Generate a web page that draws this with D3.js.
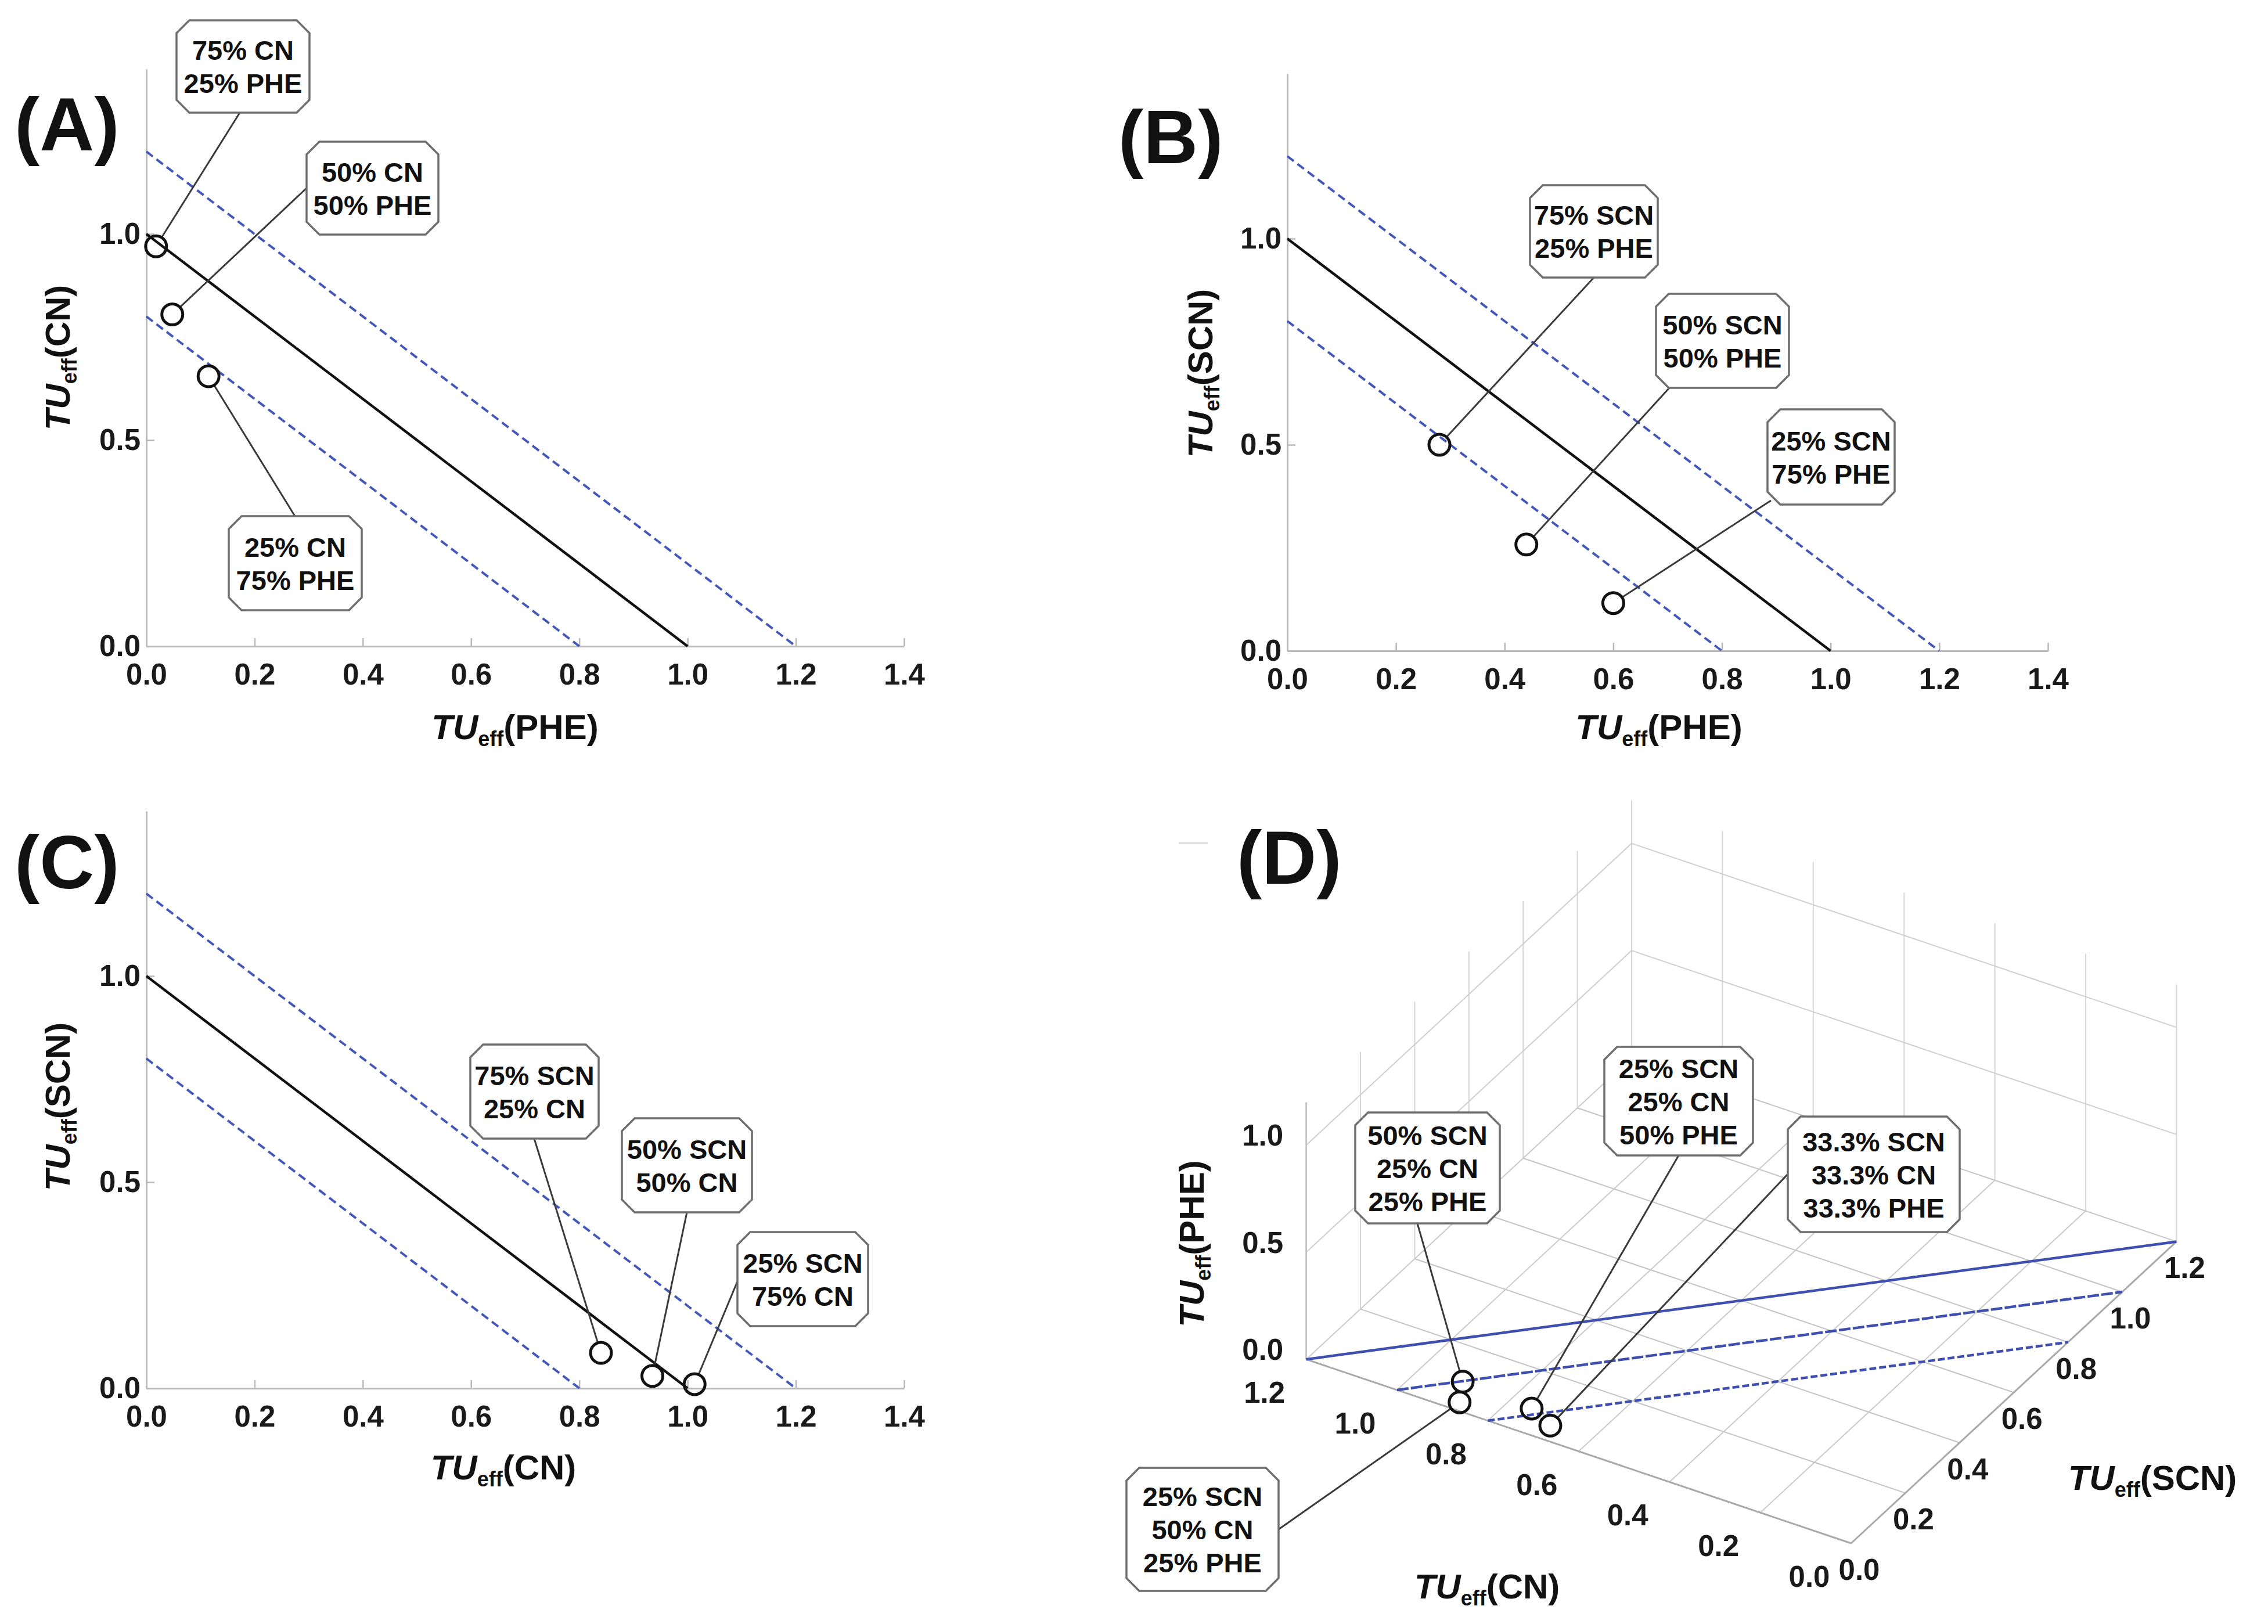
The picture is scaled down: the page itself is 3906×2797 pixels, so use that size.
<!DOCTYPE html>
<html><head><meta charset="utf-8">
<script src="https://cdn.jsdelivr.net/npm/d3@7"></script>
<style>body{margin:0;background:#fff} svg{display:block}</style>
</head><body>
<script>
// ---------------- DATA ----------------
const axisTicks2D = [0, 0.2, 0.4, 0.6, 0.8, 1.0, 1.2, 1.4];
const yTicks2D = [0, 0.5, 1.0];
const isoboleLevels = [0.8, 1.0, 1.2];

const panelNames = ["(A)", "(B)", "(C)", "(D)"];
const xTitles = ["PHE", "PHE", "CN"];
const yTitles = ["CN", "SCN", "SCN"];

const ptsA_x = [0.018, 0.048, 0.115];
const ptsA_y = [0.97, 0.805, 0.655];
const labelsA = [["75% CN", "25% PHE"], ["50% CN", "50% PHE"], ["25% CN", "75% PHE"]];

const ptsB_x = [0.28, 0.44, 0.60];
const ptsB_y = [0.50, 0.258, 0.116];
const labelsB = [["75% SCN", "25% PHE"], ["50% SCN", "50% PHE"], ["25% SCN", "75% PHE"]];

const ptsC_x = [0.84, 0.935, 1.013];
const ptsC_y = [0.086, 0.03, 0.01];
const labelsC = [["75% SCN", "25% CN"], ["50% SCN", "50% CN"], ["25% SCN", "75% CN"]];

const ticks3D = [0, 0.2, 0.4, 0.6, 0.8, 1.0, 1.2];
const ticks3D_phe = [0, 0.5, 1.0];
const ptsD_cn  = [0.89, 0.87, 0.728, 0.672];
const ptsD_scn = [0.058, 0.013, 0.041, 0.016];
const ptsD_phe = [0.05, 0.02, 0.06, 0.05];
const labelsD = [["50% SCN", "25% CN", "25% PHE"], ["25% SCN", "50% CN", "25% PHE"],
                 ["25% SCN", "25% CN", "50% PHE"], ["33.3% SCN", "33.3% CN", "33.3% PHE"]];

// ---------------- LAYOUT / STYLE ----------------
const W = 3906, H = 2797;
const FONT = "'Liberation Sans', Arial, Helvetica, sans-serif";
const BLUE = "#4357b8";
const fmt = d3.format(".1f");
const TICKFS = "51px";

const svg = d3.select("body").append("svg").attr("width", W).attr("height", H)
  .style("font-family", FONT);
svg.append("rect").attr("width", W).attr("height", H).attr("fill", "#fff");

const panelLabelPos = [[25, 259], [1926, 281], [25, 1530], [2130, 1522]];
panelNames.forEach((n, i) => {
  svg.append("text").attr("x", panelLabelPos[i][0]).attr("y", panelLabelPos[i][1])
    .style("font-size", "130px").style("font-weight", "bold").attr("fill", "#111").text(n);
});

function axisTitle(x, y, rot, name) {
  const t = svg.append("text").attr("transform", `translate(${x},${y}) rotate(${rot})`)
    .attr("text-anchor", "middle").style("font-weight", "bold").style("font-size", "60px")
    .attr("fill", "#111");
  t.append("tspan").style("font-style", "italic").text("TU");
  t.append("tspan").style("font-size", "36px").attr("dy", 12).text("eff");
  t.append("tspan").attr("dy", -12).text("(" + name + ")");
}

function callout(g, lines, b, anchor, target, lineH) {
  const c = 22;
  const dx = target[0] - anchor[0], dy = target[1] - anchor[1], L = Math.hypot(dx, dy), r = 18;
  g.append("line").attr("x1", anchor[0]).attr("y1", anchor[1])
    .attr("x2", target[0] - dx / L * r).attr("y2", target[1] - dy / L * r)
    .attr("stroke", "#3a3a3a").attr("stroke-width", 3);
  const [x, y, w, h] = b;
  const pts = [[x + c, y], [x + w - c, y], [x + w, y + c], [x + w, y + h - c], [x + w - c, y + h],
               [x + c, y + h], [x, y + h - c], [x, y + c]];
  g.append("polygon").attr("points", pts.map(p => p.join(",")).join(" "))
    .attr("fill", "#fff").attr("stroke", "#6e6e6e").attr("stroke-width", 3.5);
  const n = lines.length;
  lines.forEach((s, i) => {
    g.append("text").attr("x", x + w / 2).attr("y", y + h / 2 + (i - (n - 1) / 2) * lineH + 17)
      .attr("text-anchor", "middle").style("font-size", "47px").style("font-weight", "bold")
      .attr("fill", "#111").text(s);
  });
}

// ---------------- 2D PANELS ----------------
const panels2D = [
  { x0: 252, x1: 1557, y0: 1113, unitY: 710, px: ptsA_x, py: ptsA_y, labels: labelsA,
    boxes: [[304, 35, 229, 159], [528, 244, 227, 160], [394, 889, 229, 162]],
    anchors: [[413, 194], [528, 324], [508, 889]],
    xt: [887, 1273], yt: [120, 616] },
  { x0: 2217, x1: 3527, y0: 1121, unitY: 710, px: ptsB_x, py: ptsB_y, labels: labelsB,
    boxes: [[2635, 319, 220, 159], [2852, 506, 229, 162], [3044, 705, 219, 164]],
    anchors: [[2745, 478], [2875, 668], [3050, 862]],
    xt: [2857, 1273], yt: [2088, 643] },
  { x0: 252, x1: 1557, y0: 2391, unitY: 710, px: ptsC_x, py: ptsC_y, labels: labelsC,
    boxes: [[810, 1799, 221, 162], [1071, 1926, 224, 162], [1270, 2122, 225, 162]],
    anchors: [[920, 1961], [1183, 2088], [1270, 2207]],
    xt: [867, 2548], yt: [120, 1906] }
];

panels2D.forEach((p, pi) => {
  const x = d3.scaleLinear().domain([0, 1.4]).range([p.x0, p.x1]);
  const y = d3.scaleLinear().domain([0, 1.4]).range([p.y0, p.y0 - 1.4 * p.unitY]);
  const g = svg.append("g");

  const ax = g.append("g").attr("transform", `translate(0,${p.y0})`)
    .call(d3.axisBottom(x).tickValues(axisTicks2D).tickFormat(fmt)
      .tickSizeInner(-14).tickSizeOuter(0).tickPadding(30));
  const ay = g.append("g").attr("transform", `translate(${p.x0},0)`)
    .call(d3.axisLeft(y).tickValues(yTicks2D).tickFormat(fmt)
      .tickSizeInner(-14).tickSizeOuter(0).tickPadding(10));
  [ax, ay].forEach(a => {
    a.select(".domain").attr("stroke", "#b8b8b8").attr("stroke-width", 3);
    a.selectAll(".tick line").attr("stroke", "#b8b8b8").attr("stroke-width", 2.5);
    a.selectAll(".tick text").attr("fill", "#1a1a1a").style("font-size", TICKFS)
      .style("font-weight", "bold").style("font-family", FONT);
  });

  isoboleLevels.forEach(L => {
    const solid = L === 1.0;
    g.append("line").attr("x1", x(0)).attr("y1", y(L)).attr("x2", x(L)).attr("y2", y(0))
      .attr("stroke", solid ? "#111" : BLUE).attr("stroke-width", solid ? 4.5 : 4)
      .attr("stroke-dasharray", solid ? null : "14,8");
  });

  p.px.forEach((v, i) => {
    callout(g, p.labels[i], p.boxes[i], p.anchors[i], [x(v), y(p.py[i])], 57);
  });
  p.px.forEach((v, i) => {
    g.append("circle").attr("cx", x(v)).attr("cy", y(p.py[i])).attr("r", 18)
      .attr("fill", "none").attr("stroke", "#111").attr("stroke-width", 5);
  });

  axisTitle(p.xt[0], p.xt[1], 0, xTitles[pi]);
  axisTitle(p.yt[0], p.yt[1], -90, yTitles[pi]);
});

// ---------------- 3D PANEL (D) ----------------
const O = [3188, 2658];
const cnX = d3.scaleLinear().domain([0, 1]).range([0, -782]);
const cnY = d3.scaleLinear().domain([0, 1]).range([0, -264]);
const scnX = d3.scaleLinear().domain([0, 1]).range([0, 467]);
const scnY = d3.scaleLinear().domain([0, 1]).range([0, -433]);
const pheY = d3.scaleLinear().domain([0, 1]).range([0, -369]);
const proj = (c, s, p) => [O[0] + cnX(c) + scnX(s), O[1] + cnY(c) + scnY(s) + pheY(p)];
const MAX = 1.2;
const gD = svg.append("g");

function seg(a, b, col, w, dash) {
  gD.append("line").attr("x1", a[0]).attr("y1", a[1]).attr("x2", b[0]).attr("y2", b[1])
    .attr("stroke", col).attr("stroke-width", w).attr("stroke-dasharray", dash || null);
}

// faint mark near the panel label
seg([2030, 1452], [2080, 1452], "#dcdcdc", 3);

// back walls
ticks3D.forEach(v => {
  seg(proj(MAX, v, 0), proj(MAX, v, MAX), "#d6d6d6", 2);
  seg(proj(v, MAX, 0), proj(v, MAX, MAX), "#d6d6d6", 2);
});
[0.5, 1.0].forEach(pv => {
  seg(proj(MAX, 0, pv), proj(MAX, MAX, pv), "#cfcfcf", 2);
  seg(proj(0, MAX, pv), proj(MAX, MAX, pv), "#cfcfcf", 2);
});
// floor grid
ticks3D.forEach(v => {
  seg(proj(v, 0, 0), proj(v, MAX, 0), "#cacaca", 2);
  seg(proj(0, v, 0), proj(MAX, v, 0), "#c4c4c4", 2);
});
// front axis edges
seg(proj(0, 0, 0), proj(MAX, 0, 0), "#a9a9a9", 3);
seg(proj(0, 0, 0), proj(0, MAX, 0), "#a9a9a9", 3);
seg(proj(MAX, 0, 0), proj(MAX, 0, MAX), "#c0c0c0", 2.5);

// isobole lines on floor
const dDash = { 0.8: "12,5", 1.0: "20,4", 1.2: null };
isoboleLevels.forEach(L => seg(proj(L, 0, 0), proj(0, L, 0), "#3f4fb0", 4.5, dDash[L]));

// tick labels
function tlabel(pt, off, txt) {
  gD.append("text").attr("x", pt[0] + off[0]).attr("y", pt[1] + off[1] + 18)
    .attr("text-anchor", "middle").style("font-size", TICKFS).style("font-weight", "bold")
    .attr("fill", "#1a1a1a").text(txt);
}
ticks3D.forEach(v => tlabel(proj(v, 0, 0), [-72, 57], fmt(v)));
ticks3D.forEach(v => tlabel(proj(0, v, 0), [14, 45], fmt(v)));
ticks3D_phe.forEach(v => tlabel(proj(MAX, 0, v), [-75, -17], fmt(v)));

// callouts + points
const boxesD = [[2334, 1916, 249, 191], [1940, 2528, 262, 212], [2763, 1803, 256, 187], [3079, 1923, 296, 199]];
const anchorsD = [[2441, 2107], [2202, 2634], [2891, 1990], [3079, 2022]];
ptsD_cn.forEach((c, i) => {
  callout(gD, labelsD[i], boxesD[i], anchorsD[i], proj(c, ptsD_scn[i], ptsD_phe[i]), 57);
});
ptsD_cn.forEach((c, i) => {
  const p = proj(c, ptsD_scn[i], ptsD_phe[i]);
  gD.append("circle").attr("cx", p[0]).attr("cy", p[1]).attr("r", 18)
    .attr("fill", "none").attr("stroke", "#111").attr("stroke-width", 5);
});

axisTitle(2073, 2142, -90, "PHE");
axisTitle(2561, 2753, 0, "CN");
axisTitle(3707, 2566, 0, "SCN");
</script>
</body></html>
